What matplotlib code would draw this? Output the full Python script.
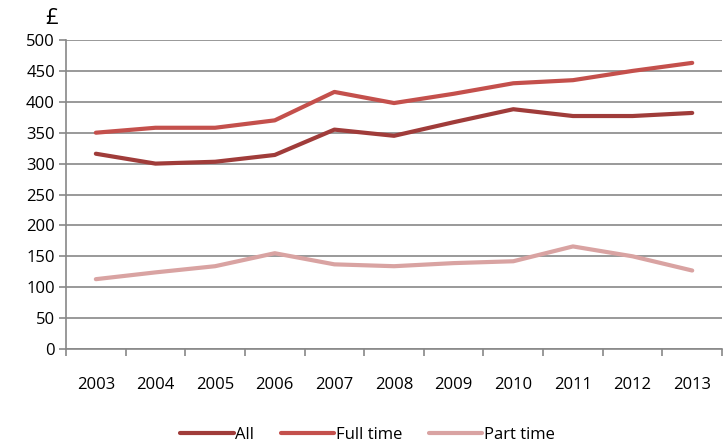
import matplotlib.pyplot as plt

years = ['2003', '2004', '2005', '2006', '2007', '2008', '2009', '2010', '2011', '2012', '2013']
all_workers = [316, 300, 303, 314, 355, 345, 367, 388, 377, 377, 382]
full_time = [350, 358, 358, 370, 416, 398, 413, 430, 435, 450, 463]
part_time = [113, 124, 134, 155, 137, 134, 139, 142, 166, 150, 127]

plt.rcParams['font.family'] = ['Open Sans', 'DejaVu Sans']

fig = plt.figure(figsize=(7.28, 4.47), dpi=100)
ax = fig.add_axes([0.0907, 0.2192, 0.9011, 0.6913])

x = range(len(years))
ax.plot(x, all_workers, color='#A03C3A', linewidth=3, label='All', solid_capstyle='round')
ax.plot(x, full_time, color='#C4504C', linewidth=3, label='Full time', solid_capstyle='round')
ax.plot(x, part_time, color='#D9A3A2', linewidth=3, label='Part time', solid_capstyle='round')

ax.set_xlim(-0.5, len(years) - 0.5)
ax.set_ylim(0, 500)
ax.set_yticks(range(0, 501, 50))
ax.set_xticks(list(x))
ax.set_xticklabels(years)
ax.set_xticks([i + 0.5 for i in range(-1, len(years))], minor=True)
ax.tick_params(axis='x', which='major', length=0, pad=20, labelsize=12)
ax.tick_params(axis='x', which='minor', length=5, color='#888888', width=1.2)
ax.tick_params(axis='y', length=5, color='#888888', width=1.2, labelsize=12, pad=3)

ax.grid(axis='y', color='#888888', linewidth=1.2)
ax.set_axisbelow(True)
for s in ['top', 'right']:
    ax.spines[s].set_visible(False)
ax.spines['left'].set_color('#888888')
ax.spines['bottom'].set_color('#888888')
ax.spines['left'].set_linewidth(1.2)
ax.spines['bottom'].set_linewidth(1.2)

fig.text(0.062, 0.935, '£', fontsize=16, ha='left', va='bottom')

fig.legend(loc='center', bbox_to_anchor=(0.505, 0.027), ncol=3, frameon=False,
           fontsize=12, handlelength=3.2, handletextpad=0.1, columnspacing=1.6)

fig.savefig('out.png', dpi=100)
